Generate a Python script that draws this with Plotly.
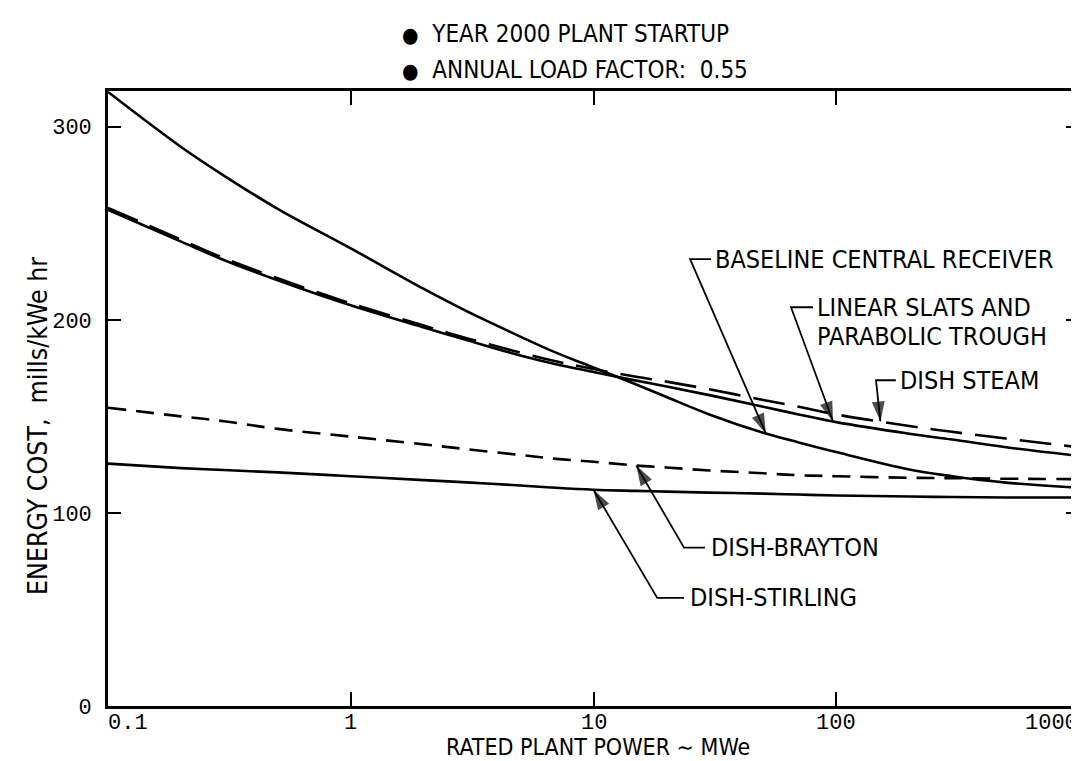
import numpy as np
import plotly.graph_objects as go

# ---------------- data ----------------
power_mwe = [0.1, 0.2, 0.3, 0.5, 1, 2, 3, 5, 7, 10, 15, 20, 30, 50, 70, 100, 200, 300, 500, 1000]

baseline_central_receiver = [318, 289.5, 274.7, 257.5, 237, 216, 204.5, 191.3, 183, 175.3,
                             166.5, 160, 151, 141.5, 136.5, 131.5, 122.5, 119, 115.7, 113]
linear_slats_trough = [257, 240.5, 231, 220.5, 207.5, 196, 189.5, 181.5, 177, 173,
                       168.5, 165.5, 161, 155, 151, 147, 141, 138, 134, 129.5]
dish_steam = [258, 241.5, 232, 221.5, 208.5, 197, 190.5, 183, 178.5, 174.5,
              170.5, 168, 164, 158.5, 155, 151, 145, 142, 138.5, 134]
dish_brayton = [154.5, 150, 147.5, 143.5, 139.5, 135.5, 133, 130, 128, 126.5,
                124.5, 123.5, 122, 120.5, 119.5, 119, 118.2, 118, 117.7, 117.5]
dish_stirling = [125.5, 123.2, 122.2, 121, 119, 117, 115.8, 114.2, 113, 112,
                 111.4, 111, 110.5, 110, 109.5, 109, 108.5, 108.2, 108, 108]

x_tickvals = [0.1, 1, 10, 100, 1000]
x_ticktext = ["0.1", "1", "10", "100", "1000"]
y_tickvals = [0, 100, 200, 300]
y_ticktext = ["0", "100", "200", "300"]

header_lines = ["YEAR 2000 PLANT STARTUP", "ANNUAL LOAD FACTOR:\u00a0 0.55"]

# ---------------- figure ----------------
COND = "DejaVu Sans Condensed, Liberation Sans Narrow, sans-serif"
MONO = "Liberation Mono, DejaVu Sans Mono, Courier New, monospace"

fig = go.Figure()

def add_curve(y, dash, width=2.6):
    fig.add_trace(go.Scatter(
        x=power_mwe, y=y, mode="lines",
        line=dict(color="black", width=width, dash=dash, shape="spline", smoothing=1.0),
        showlegend=False, hoverinfo="skip"))

add_curve(baseline_central_receiver, "solid")
add_curve(linear_slats_trough, "solid")
add_curve(dish_steam, "32px,13px")
add_curve(dish_brayton, "18px,10px")
add_curve(dish_stirling, "solid")

def curve_at(series, x):
    return float(np.interp(np.log10(x), np.log10(power_mwe), series))

# label leaders: (text lines, curve, tip_x, elbow_x, elbow_y, stub_end_x, text_x)
labels = [
    (["BASELINE CENTRAL RECEIVER"], baseline_central_receiver, 51.3, 25.0, 231.4, 30.5, 31.2),
    (["LINEAR SLATS AND", "PARABOLIC TROUGH"], linear_slats_trough, 97.0, 65.1, 206.5, 80.2, 81.5),
    (["DISH STEAM"], dish_steam, 152.0, 145.8, 168.7, 176.0, 180.0),
    (["DISH-BRAYTON"], dish_brayton, 15.0, 23.6, 82.0, 28.8, 30.0),
    (["DISH-STIRLING"], dish_stirling, 10.0, 18.3, 56.0, 23.6, 24.5),
]

for lines, series, tip_x, ex, ey, sx, tx in labels:
    tip_y = curve_at(series, tip_x)
    fig.add_trace(go.Scatter(
        x=[sx, ex, tip_x], y=[ey, ey, tip_y], mode="lines+markers",
        line=dict(color="black", width=1.8),
        marker=dict(symbol="arrow", size=[0, 0, 21], angleref="previous",
                    color="black", line=dict(width=0)),
        showlegend=False, hoverinfo="skip"))
    for i, t in enumerate(lines):
        fig.add_annotation(
            x=np.log10(tx), y=ey, xref="x", yref="y", yshift=-29 * i,
            text=t, showarrow=False, xanchor="left", yanchor="middle",
            font=dict(family=COND, size=25, color="black"))

# x tick labels (end labels sit inside the frame, as in the original)
for i, (v, t) in enumerate(zip(x_tickvals, x_ticktext)):
    anchor = "left" if i == 0 else ("right" if i == len(x_tickvals) - 1 else "center")
    fig.add_annotation(
        x=np.log10(v), y=(698 - 715) / 615, xref="x", yref="paper",
        xshift=-2 if i == 0 else (1 if anchor == "right" else 0),
        text=t, showarrow=False, xanchor=anchor, yanchor="middle",
        font=dict(family=MONO, size=22, color="black"))

# header
for t, py in zip(header_lines, [26, 62]):
    fig.add_annotation(
        x=(392 - 100) / 971, y=(698 - py) / 615, xref="paper", yref="paper",
        text="<span style='font-size:21px'>\u25cf</span>\u00a0 " + t,
        showarrow=False, xanchor="left", yanchor="middle",
        font=dict(family=COND, size=24, color="black"))

# axis titles
fig.add_annotation(x=(29 - 100) / 971, y=(698 - 418) / 615, xref="paper", yref="paper",
                   text="ENERGY COST,\u00a0 mills/kWe hr", textangle=-90, showarrow=False,
                   xanchor="center", yanchor="middle",
                   font=dict(family=COND, size=26.5, color="black"))
fig.add_annotation(x=(590 - 100) / 971, y=(698 - 739) / 615, xref="paper", yref="paper",
                   text="RATED PLANT POWER \u223c MWe", showarrow=False,
                   xanchor="center", yanchor="middle", borderpad=0,
                   font=dict(family=COND, size=23, color="black"))

fig.update_layout(
    width=1079, height=761, autosize=False,
    margin=dict(l=100, r=8, t=83, b=63),
    paper_bgcolor="white", plot_bgcolor="white",
    showlegend=False,
    xaxis=dict(type="log", range=[-1, 3], tickvals=x_tickvals, showticklabels=False,
               ticks="inside", ticklen=14, tickwidth=2, tickcolor="black",
               showline=True, linewidth=2.6, linecolor="black", mirror="ticks",
               showgrid=False, zeroline=False, automargin=False),
    yaxis=dict(range=[0, 318.5], tickvals=y_tickvals, ticktext=y_ticktext,
               ticks="inside", ticklen=13, tickwidth=2, tickcolor="black",
               showline=True, linewidth=2.6, linecolor="black", mirror="ticks",
               showgrid=False, zeroline=False, automargin=False,
               ticklabelstandoff=9,
               tickfont=dict(family=MONO, size=22, color="black")),
)

fig.write_html("out.html")
